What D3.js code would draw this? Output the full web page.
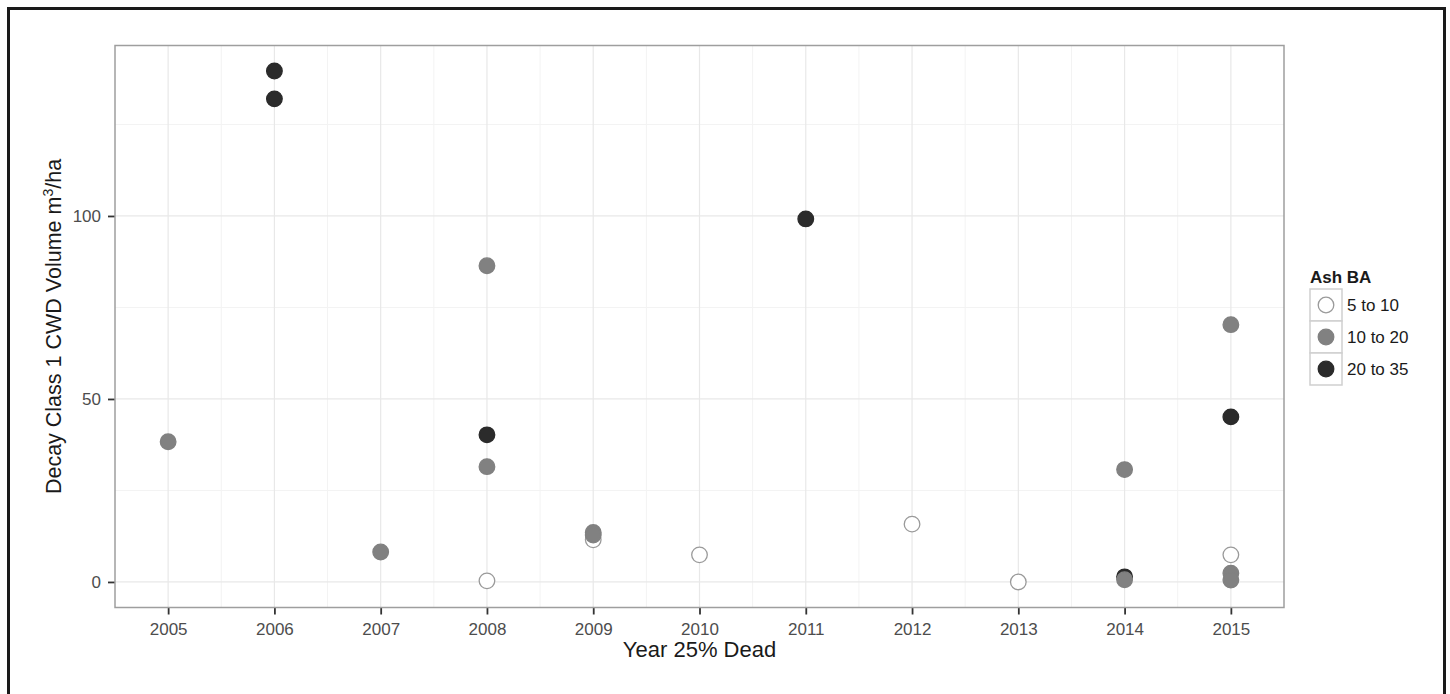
<!DOCTYPE html>
<html><head><meta charset="utf-8">
<script src="https://cdn.jsdelivr.net/npm/d3@7"></script>
<style>body{margin:0;background:#fff}svg{display:block;font-family:"Liberation Sans",Arial,sans-serif}</style>
</head><body><svg id="c" width="1450" height="694"></svg>
<script>
const groupNames = ["5 to 10", "10 to 20", "20 to 35"];
const whiteYears = [2008, 2009, 2010, 2012, 2013, 2015];
const whiteVals  = [0.3, 11.5, 7.4, 15.8, 0.0, 7.4];
const grayYears  = [2005, 2007, 2008, 2008, 2009, 2009, 2014, 2014, 2015, 2015, 2015];
const grayVals   = [38.3, 8.2, 86.4, 31.5, 13.5, 12.8, 30.7, 0.6, 70.3, 2.4, 0.5];
const blackYears = [2006, 2006, 2008, 2011, 2014, 2015];
const blackVals  = [139.6, 132.0, 40.2, 99.2, 1.4, 45.1];
const xTicks = [2005,2006,2007,2008,2009,2010,2011,2012,2013,2014,2015];
const yTicks = [0, 50, 100];

const svg = d3.select("#c");
const P = {l:115, r:1284, t:45.5, b:607.5};
const x = d3.scaleLinear().domain([2004.5, 2015.5]).range([P.l, P.r]);
const yMax = 139.6 * 1.05, yMin = -139.6 * 0.05;
const y = d3.scaleLinear().domain([yMin, yMax]).range([P.b, P.t]);

// outer frame
svg.append("rect").attr("x",8.5).attr("y",8.5).attr("width",1436).attr("height",700)
  .attr("fill","none").attr("stroke","#1a1a1a").attr("stroke-width",3);

// grid
const g = svg.append("g");
const xMinor = xTicks.slice(0,-1).map(v=>v+0.5);
const yMinor = [25, 75, 125];
g.selectAll(".vmin").data(xMinor).join("line").attr("x1",d=>x(d)).attr("x2",d=>x(d))
  .attr("y1",P.t).attr("y2",P.b).attr("stroke","#f3f3f3").attr("stroke-width",1);
g.selectAll(".hmin").data(yMinor).join("line").attr("y1",d=>y(d)).attr("y2",d=>y(d))
  .attr("x1",P.l).attr("x2",P.r).attr("stroke","#f3f3f3").attr("stroke-width",1);
g.selectAll(".vmaj").data(xTicks).join("line").attr("x1",d=>x(d)).attr("x2",d=>x(d))
  .attr("y1",P.t).attr("y2",P.b).attr("stroke","#e8e8e8").attr("stroke-width",1.2);
g.selectAll(".hmaj").data(yTicks).join("line").attr("y1",d=>y(d)).attr("y2",d=>y(d))
  .attr("x1",P.l).attr("x2",P.r).attr("stroke","#e8e8e8").attr("stroke-width",1.2);

// axes
const xAxis = d3.axisBottom(x).tickValues(xTicks).tickFormat(d3.format("d")).tickSize(7).tickPadding(8.5);
const yAxis = d3.axisLeft(y).tickValues(yTicks).tickSize(7).tickPadding(7);
const gx = svg.append("g").attr("transform",`translate(0,${P.b})`).call(xAxis);
const gy = svg.append("g").attr("transform",`translate(${P.l},0)`).call(yAxis);
[gx,gy].forEach(a=>{
  a.select(".domain").remove();
  a.selectAll(".tick line").attr("stroke","#333").attr("stroke-width",1.8);
  a.selectAll(".tick text").attr("fill","#4d4d4d").style("font-size","17px").style("font-family","Liberation Sans, Arial, sans-serif");
});

// panel border
svg.append("rect").attr("x",P.l).attr("y",P.t).attr("width",P.r-P.l).attr("height",P.b-P.t)
  .attr("fill","none").attr("stroke","#9e9e9e").attr("stroke-width",1.5);

// titles
svg.append("text").attr("x",(P.l+P.r)/2).attr("y",657).attr("text-anchor","middle")
  .attr("fill","#1a1a1a").style("font-size","22px").text("Year 25% Dead");
const yt = svg.append("text").attr("transform",`translate(61,${(P.t+P.b)/2}) rotate(-90)`)
  .attr("text-anchor","middle").attr("fill","#1a1a1a").style("font-size","21.5px");
yt.append("tspan").text("Decay Class 1 CWD Volume m");
yt.append("tspan").attr("dy",-8).style("font-size","14px").text("3");
yt.append("tspan").attr("dy",8).text("/ha");

// points
const styles = [
  {fill:"#ffffff", stroke:"#9a9a9a"},
  {fill:"#818181", stroke:"#818181"},
  {fill:"#2b2b2b", stroke:"#2b2b2b"}
];
const series = [
  {years: whiteYears, vals: whiteVals, s: 0},
  {years: blackYears, vals: blackVals, s: 2},
  {years: grayYears,  vals: grayVals,  s: 1}
];
const pts = svg.append("g");
series.forEach(se=>{
  pts.selectAll(null).data(se.years.map((yr,i)=>({yr, v: se.vals[i]}))).join("circle")
    .attr("cx",d=>x(d.yr)).attr("cy",d=>y(d.v)).attr("r",7.8)
    .attr("fill",styles[se.s].fill).attr("stroke",styles[se.s].stroke).attr("stroke-width",1.3);
});

// legend
const L = svg.append("g");
L.append("text").attr("x",1310).attr("y",283).attr("fill","#1a1a1a")
  .style("font-size","17px").style("font-weight","bold").text("Ash BA");
groupNames.forEach((name,i)=>{
  const top = 289 + i*32;
  L.append("rect").attr("x",1310).attr("y",top).attr("width",32).attr("height",32)
    .attr("fill","#fff").attr("stroke","#cfcfcf").attr("stroke-width",1.5);
  L.append("circle").attr("cx",1326).attr("cy",top+16).attr("r",7.8)
    .attr("fill",styles[i].fill).attr("stroke",styles[i].stroke).attr("stroke-width",1.3);
  L.append("text").attr("x",1347).attr("y",top+22).attr("fill","#1a1a1a")
    .style("font-size","17px").text(name);
});
</script></body></html>
